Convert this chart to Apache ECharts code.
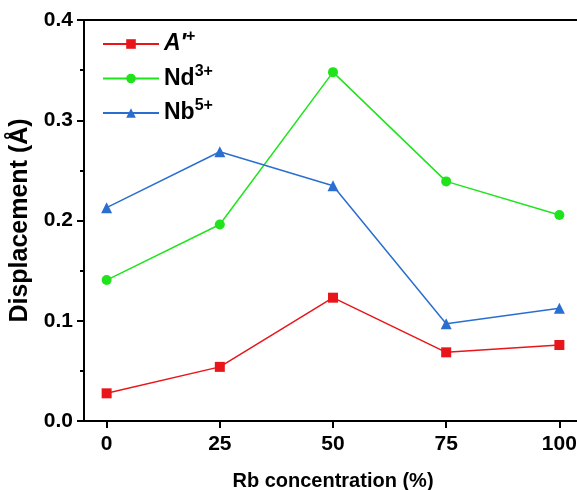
<!DOCTYPE html>
<html><head><meta charset="utf-8">
<script src="https://cdn.jsdelivr.net/npm/echarts@6/dist/echarts.min.js"></script>
<style>html,body{margin:0;padding:0;background:#fff}#c{width:577px;height:490px}</style>
</head><body><div id="c"></div>
<script>
const rbConcentration = [0, 25, 50, 75, 100];
const aPrime = [0.0276, 0.054, 0.123, 0.0685, 0.0758];
const nd3 = [0.1406, 0.196, 0.348, 0.239, 0.2055];
const nb5 = [0.2128, 0.2686, 0.2347, 0.097, 0.1124];
const xTicks = [0, 25, 50, 75, 100];
const seriesNames = ['A′+', 'Nd3+', 'Nb5+'];
const legendRich = {
  'A′+': '{i|A′}{s|+}',
  'Nd3+': '{b|Nd}{s|3+}',
  'Nb5+': '{b|Nb}{s|5+}'
};
const font = 'Liberation Sans, Arial, sans-serif';
const chart = echarts.init(document.getElementById('c'), null, {renderer: 'canvas'});
function pts(v) { return rbConcentration.map((x, i) => [x, v[i]]); }
chart.setOption({
  animation: false,
  grid: {left: 84, top: 20, width: 498, height: 401, show: true, borderColor: '#000', borderWidth: 2,
         outerBoundsMode: 'none', containLabel: false},
  legend: {
    orient: 'vertical', left: 97, top: 24, itemWidth: 56, itemHeight: 12, itemGap: 8,
    data: seriesNames,
    formatter: n => legendRich[n],
    textStyle: {
      rich: {
        i: {fontSize: 23, lineHeight: 30, fontWeight: 'bold', fontStyle: 'italic', fontFamily: font, color: '#000'},
        b: {fontSize: 23, lineHeight: 30, fontWeight: 'bold', fontFamily: font, color: '#000'},
        s: {fontSize: 16, lineHeight: 6, fontWeight: 'bold', fontFamily: font, color: '#000', verticalAlign: 'top', padding: [0, 0, 0, 0]}
      }
    }
  },
  xAxis: {
    type: 'value', min: -5, max: 105,
    name: 'Rb concentration (%)', nameLocation: 'middle', nameGap: 50,
    nameTextStyle: {fontSize: 20, fontWeight: 'bold', fontFamily: font, color: '#000'},
    axisLine: {onZero: false, lineStyle: {color: '#000', width: 2}},
    axisTick: {show: true, length: 7, customValues: xTicks, lineStyle: {color: '#000', width: 2}},
    axisLabel: {customValues: xTicks, fontSize: 21, fontWeight: 'bold', fontFamily: font, color: '#000', margin: 13},
    splitLine: {show: false}
  },
  yAxis: {
    type: 'value', min: 0, max: 0.4, interval: 0.1,
    name: 'Displacement (Å)', nameLocation: 'middle', nameGap: 43,
    nameTextStyle: {fontSize: 25, fontWeight: 'bold', fontFamily: font, color: '#000'},
    axisLine: {show: true, onZero: false, lineStyle: {color: '#000', width: 2}},
    axisTick: {show: true, length: 7, lineStyle: {color: '#000', width: 2}},
    minorTick: {show: true, splitNumber: 2, length: 4, lineStyle: {color: '#000', width: 2}},
    axisLabel: {fontSize: 21, fontWeight: 'bold', fontFamily: font, color: '#000', margin: 11, formatter: v => v.toFixed(1)},
    splitLine: {show: false}
  },
  series: [
    {name: seriesNames[0], type: 'line', data: pts(aPrime), symbol: 'rect', symbolSize: 10,
     itemStyle: {color: '#e8161b'}, lineStyle: {color: '#e8161b', width: 1.5}},
    {name: seriesNames[1], type: 'line', data: pts(nd3), symbol: 'circle', symbolSize: 10,
     itemStyle: {color: '#1fe41c'}, lineStyle: {color: '#1fe41c', width: 1.5}},
    {name: seriesNames[2], type: 'line', data: pts(nb5), symbol: 'triangle', symbolSize: 11,
     itemStyle: {color: '#2a6fd0'}, lineStyle: {color: '#2a6fd0', width: 1.5}}
  ]
});
</script></body></html>
